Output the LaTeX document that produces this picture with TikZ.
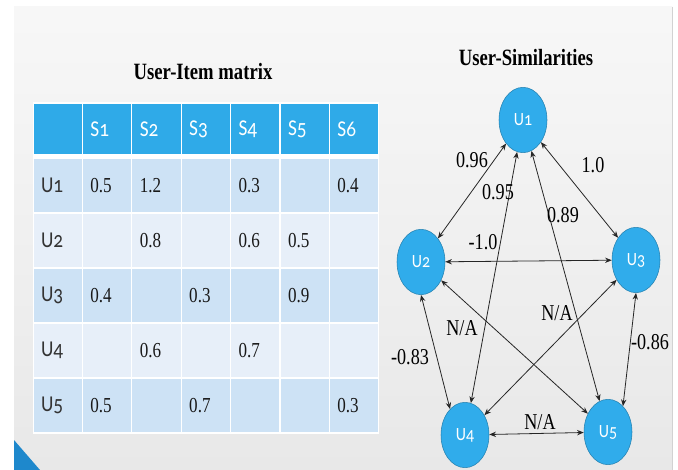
\documentclass[tikz,border=0pt]{standalone}
\usepackage{fontspec}
\usepackage{tikz}
\usetikzlibrary{shapes.geometric, arrows.meta, positioning}
\newfontfamily\numfont[FakeStretch=0.8]{Liberation Serif}
\newfontfamily\uifont[Numbers=OldStyle, FakeStretch=0.85]{Carlito}
\definecolor{headblue}{HTML}{2FAAE8}
\definecolor{nodeblue}{HTML}{30ACEB}
\definecolor{row1}{HTML}{CDE2F5}
\definecolor{row0}{HTML}{E7EFF9}
\definecolor{cornerblue}{HTML}{1E88CC}
\tikzset{
  panel title/.style={
    font=\numfont\bfseries\fontsize{17.5}{17.5}\selectfont, inner sep=0pt
  },
  head cell/.style={
    rectangle, draw=white, line width=0.8pt, fill=headblue,
    text width=25pt, minimum height=39pt, inner xsep=6pt, inner ysep=0pt,
    align=left, font=\uifont\fontsize{17}{17}\selectfont, text=white
  },
  row cell/.style={
    rectangle, draw=white, line width=0.8pt,
    text width=25pt, minimum height=41.25pt, inner xsep=6pt, inner ysep=0pt,
    align=left, font=\uifont\fontsize{17}{17}\selectfont, text=black!80
  },
  value cell/.style={
    row cell, font=\numfont\fontsize{16}{16}\selectfont, text=black!90
  },
  user node/.style={
    ellipse, draw=nodeblue!75!black, line width=0.4pt, fill=nodeblue,
    minimum width=36pt, minimum height=49pt, inner sep=0pt,
    font=\uifont\fontsize{14}{14}\selectfont, text=white
  },
  sim arrow/.style={
    {Stealth[length=5pt,width=4pt]}-{Stealth[length=5pt,width=4pt]},
    line width=0.6pt, draw=black!85
  },
  sim label/.style={
    font=\numfont\fontsize{17}{17}\selectfont, inner sep=1pt
  }
}
\begin{document}
\begin{tikzpicture}[x=0.75pt, y=-0.75pt]
  \useasboundingbox (0,0) rectangle (678,470);
  % slide background
  \fill[white] (0,0) rectangle (678,470);
  \shade[top color=gray!6, bottom color=gray!18] (14,7) rectangle (672,470);
  \draw[gray!35, line width=0.6pt] (672,7) -- (672,470);
  \fill[cornerblue] (14,440) -- (14,470) -- (40,470) -- cycle;

  % Left: rating table
  \node (t1) [panel title] at (203,72) {User-Item matrix};
  \fill[white] (33,103) rectangle (379,433);
  \foreach \s [count=\j] in {{},S1,S2,S3,S4,S5,S6}
    \node (h\j) [head cell] at ({8.3+49.4*\j},129) {\s};
  \foreach \u [count=\i] in {U1,U2,U3,U4,U5} {
    \pgfmathtruncatemacro\odd{mod(\i,2)}
    \node (lbl\i) [row cell, fill=row\odd] at (57.7,{130.5+55*\i}) {\u};
  }
  \foreach \row [count=\i] in {{0.5,1.2,{},0.3,{},0.4},
                               {{},0.8,{},0.6,0.5,{}},
                               {0.4,{},0.3,{},0.9,{}},
                               {{},0.6,{},0.7,{},{}},
                               {0.5,{},0.7,{},{},0.3}} {
    \pgfmathtruncatemacro\odd{mod(\i,2)}
    \foreach \v [count=\j] in \row
      \node (v\i-\j) [value cell, fill=row\odd] at ({57.7+49.4*\j},{130.5+55*\i}) {\v};
  }

  % Right: similarity graph
  \node (t2) [panel title] at (526,58) {User-Similarities};
  \node (u1) [user node] at (523,120) {U1};
  \node (u2) [user node] at (421,262) {U2};
  \node (u3) [user node] at (636,260) {U3};
  \node (u4) [user node] at (465,435) {U4};
  \node (u5) [user node] at (608,432) {U5};

  \draw [sim arrow] (u1) -- (u2);
  \draw [sim arrow] (u1) -- (u3);
  \draw [sim arrow] (u1) -- (u4);
  \draw [sim arrow] (u1) -- (u5);
  \draw [sim arrow] (u2) -- (u3);
  \draw [sim arrow] (u2.south) -- (u4.120);
  \draw [sim arrow] (u2) -- (u5);
  \draw [sim arrow] (u3) -- (u4);
  \draw [sim arrow] (u3.south) -- (u5.60);
  \draw [sim arrow] (u4) -- (u5);

  % weights
  \node (w12) [sim label] at (472,160) {0.96};
  \node (w13) [sim label] at (593,165) {1.0};
  \node (w14) [sim label] at (498,192) {0.95};
  \node (w15) [sim label] at (563,215) {0.89};
  \node (w23) [sim label] at (483,242) {-1.0};
  \node (w24) [sim label] at (410,357) {-0.83};
  \node (w25) [sim label] at (462,328) {N/A};
  \node (w34) [sim label] at (557,313) {N/A};
  \node (w35) [sim label] at (650,342) {-0.86};
  \node (w45) [sim label] at (540,422) {N/A};
\end{tikzpicture}
\end{document}
